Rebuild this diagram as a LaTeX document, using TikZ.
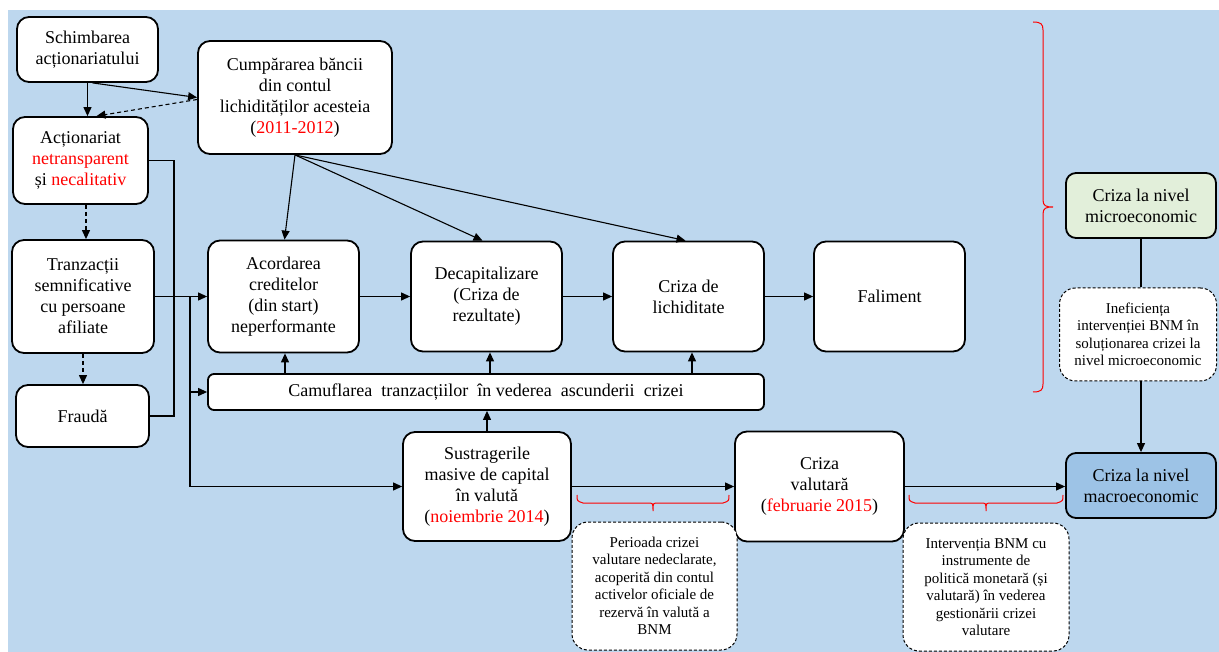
\documentclass[tikz,border=0pt]{standalone}
\usepackage{fontspec}
\setmainfont{Liberation Serif}
\usetikzlibrary{arrows.meta,calc}
\definecolor{bgblue}{HTML}{BDD7EE}
\definecolor{microfill}{HTML}{E2EFDA}
\definecolor{macrofill}{HTML}{9DC3E6}
\definecolor{datered}{HTML}{FF0000}
\newcommand{\hl}[1]{\textcolor{datered}{#1}}
\begin{document}
\begin{tikzpicture}[x=1pt,y=-1pt,
  box/.style={draw, line width=1.8pt, rounded corners=12pt, fill=white, align=center,
    inner sep=0pt, font=\fontsize{18}{21}\selectfont},
  note/.style={draw, line width=1pt, dash pattern=on 3pt off 2pt, rounded corners=16pt,
    fill=white, align=center, inner sep=0pt, font=\fontsize{15}{17.5}\selectfont},
  conn/.style={line width=1.1pt, -{Triangle[length=9pt,width=8pt]}},
  dconn/.style={conn, dash pattern=on 4pt off 3pt},
  plain/.style={line width=1.1pt},
  brace/.style={datered, line width=1pt}]
\useasboundingbox (0,0) rectangle (1219,652);
\fill[bgblue] (8,10) rectangle (1219,652);

% left column
\node[box, minimum width=141pt, minimum height=65pt] (sch) at (87.5,49.5)
  {Schimbarea\\acționariatului};
\node[box, minimum width=194pt, minimum height=113pt] (cump) at (295,97.5)
  {Cumpărarea băncii\\din contul\\lichidităților acesteia\\(\hl{2011-2012})};
\node[box, minimum width=135pt, minimum height=87pt] (act) at (80.5,160.5)
  {Acționariat\\\hl{netransparent}\\și \hl{necalitativ}};
\node[box, minimum width=142pt, minimum height=113pt] (tranz) at (83,296.5)
  {Tranzacții\\semnificative\\cu persoane\\afiliate};
\node[box, minimum width=133pt, minimum height=62pt] (frauda) at (82.5,416)
  {Fraudă};

% main chain
\node[box, minimum width=151pt, minimum height=112pt] (acord) at (283.5,296.5)
  {Acordarea\\creditelor\\(din start)\\neperformante};
\node[box, minimum width=151pt, minimum height=110pt] (decap) at (486.5,296.5)
  {Decapitalizare\\(Criza de\\rezultate)};
\node[box, minimum width=151pt, minimum height=110pt] (lich) at (688.5,296.5)
  {Criza de\\lichiditate};
\node[box, minimum width=151pt, minimum height=110pt] (fal) at (889.5,296.5)
  {Faliment};
\node[box, rounded corners=6pt, minimum width=556pt, minimum height=36pt] (camuf) at (486,392)
  {Camuflarea\ \ tranzacțiilor\ \ în vederea\ \ ascunderii\ \ crizei};

% currency crisis row
\node[box, minimum width=168pt, minimum height=109pt] (sustr) at (487,486.5)
  {Sustragerile\\masive de capital\\în valută\\(\hl{noiembrie 2014})};
\node[box, minimum width=169pt, minimum height=110pt] (cval) at (819.5,486.5)
  {Criza\\valutară\\(\hl{februarie 2015})};
\node[box, rounded corners=10pt, fill=macrofill, minimum width=150pt, minimum height=65pt] (macro) at (1141,485.5)
  {Criza la nivel\\macroeconomic};
\node[box, rounded corners=10pt, fill=microfill, minimum width=150pt, minimum height=65pt] (micro) at (1141,205.5)
  {Criza la nivel\\microeconomic};

% dashed notes
\node[note, minimum width=157pt, minimum height=93pt] (inef) at (1138,334.5)
  {Ineficiența\\intervenției BNM în\\soluționarea crizei la\\nivel microeconomic};
\node[note, minimum width=165pt, minimum height=128pt] (perioada) at (654.5,586)
  {Perioada crizei\\valutare nedeclarate,\\acoperită din contul\\activelor oficiale de\\rezervă în valută a\\BNM};
\node[note, minimum width=166pt, minimum height=128pt] (interv) at (986,587)
  {Intervenția BNM cu\\instrumente de\\politică monetară (și\\valutară) în vederea\\gestionării crizei\\valutare};

% connectors, top left
\draw[conn] (sch.south) -- (sch.south |- act.north);
\draw[conn] ($(sch.south)+(5,0)$) -- (cump.west);
\draw[dconn] ($(cump.west)+(0,2)$) -- ($(act.north)+(16,0)$);
\draw[dconn] (act.south -| 86,0) -- (tranz.north -| 86,0);
\draw[dconn] (tranz.south -| 83,0) -- (frauda.north -| 83,0);

% feeds into the credit node
\coordinate (vx) at (174,0);
\coordinate (jn) at (190,296.5);
\draw[plain] (act.east) -| (vx |- frauda.east) -- (frauda.east);
\draw[conn] (tranz.east) -- (acord.west);
\draw[conn] (jn) |- (sustr.west);
\draw[conn] (jn |- camuf.west) -- (camuf.west);

% from the bank purchase
\draw[conn] (cump.south) -- ($(acord.north)+(1,0)$);
\draw[conn] (cump.south) -- ($(decap.north)+(-4,0)$);
\draw[conn] (cump.south) -- ($(lich.north)+(-3,0)$);

% main chain
\draw[conn] (acord.east) -- (decap.west);
\draw[conn] (decap.east) -- (lich.west);
\draw[conn] (lich.east) -- (fal.west);

% camouflage feeds up
\draw[conn] (camuf.north -| 285,0) -- (acord.south -| 285,0);
\draw[conn] (camuf.north -| 490,0) -- (decap.south -| 490,0);
\draw[conn] (camuf.north -| 692,0) -- (lich.south -| 692,0);
\draw[conn] (sustr.north) -- (sustr.north |- camuf.south);

% currency row
\draw[conn] (sustr.east) -- (cval.west);
\draw[conn] (cval.east) -- (cval.east -| macro.west);

% right column
\draw[plain] (micro.south) -- (micro.south |- inef.north);
\draw[conn] (micro.south |- inef.south) -- (micro.south |- macro.north);

% red braces
\draw[brace] (1033,22) .. controls (1041,22) and (1043,24) .. (1043,30) -- (1043,200)
  .. controls (1043,206) and (1046,207) .. (1053,207)
  .. controls (1046,207) and (1043,208) .. (1043,214) -- (1043,384)
  .. controls (1043,390) and (1041,392) .. (1033,392);
\draw[brace] (577,495) .. controls (577,501) .. (583,503) -- (648,503)
  .. controls (653,503) .. (653,511) .. controls (653,503) .. (658,503) -- (723,503)
  .. controls (729,501) .. (729,495);
\draw[brace] (909,495) .. controls (909,501) .. (915,503) -- (981,503)
  .. controls (986,503) .. (986,511) .. controls (986,503) .. (991,503) -- (1057,503)
  .. controls (1063,501) .. (1063,495);
\end{tikzpicture}
\end{document}
